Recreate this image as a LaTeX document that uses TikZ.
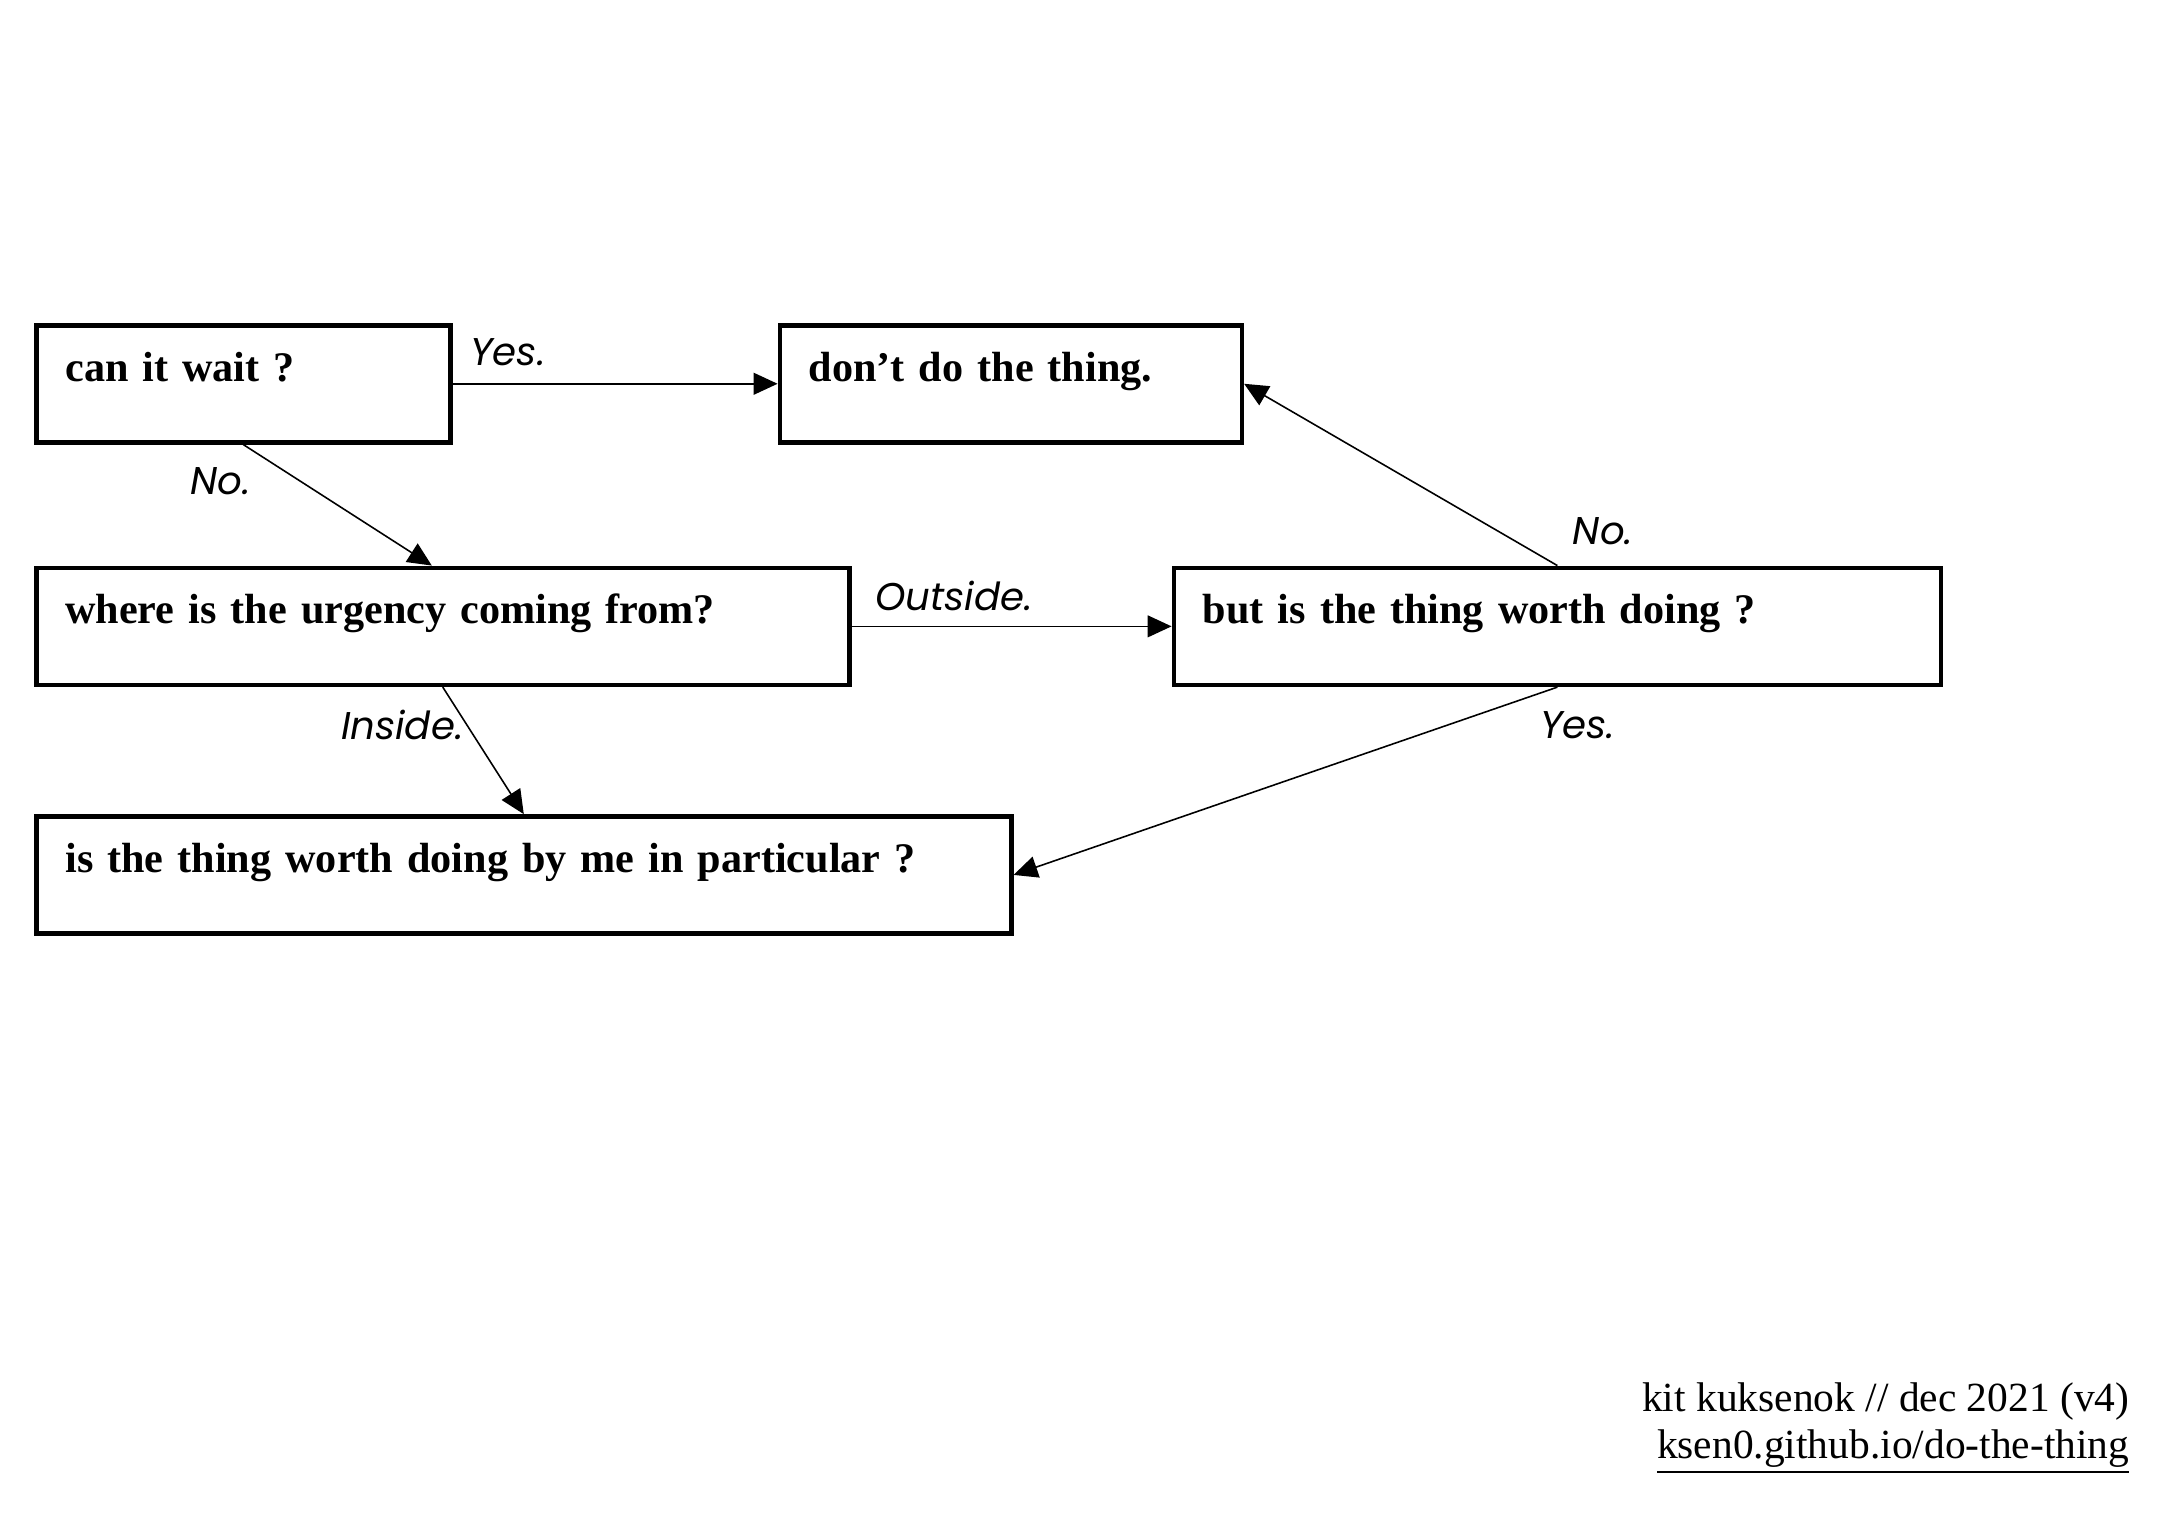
\documentclass[tikz,border=0pt]{standalone}
\usepackage{fontspec}
\setmainfont{Liberation Serif}
\newfontfamily\labelfont{Poppins}
\usetikzlibrary{arrows.meta,positioning}

\begin{document}
\begin{tikzpicture}[
    qbox/.style={draw, line width=1.3pt, anchor=north west, inner xsep=0.29cm, inner ysep=0pt,
                 text height=0.56cm, text depth=0.61cm, align=left,
                 font=\fontsize{12}{14}\selectfont\bfseries},
    arr/.style={-{Triangle[length=6.8pt,width=6.2pt]}, line width=0.45pt},
    lbl/.style={font=\labelfont\itshape\fontsize{11}{13}\selectfont, inner sep=0pt},
    note/.style={anchor=base east, inner sep=0pt, font=\fontsize{11.8}{14}\selectfont}
]
    \useasboundingbox (0,0) rectangle (21.57,-15.16);

    % question boxes
    \node[qbox, text width=3.56cm] (wait) at (0.34,-3.23) {can it wait ?};
    \node[qbox, text width=4.04cm, right=3.25cm of wait] (dont) {don't do the thing.};
    \node[qbox, text width=7.55cm, below=1.21cm of wait.south west, anchor=north west] (source) {where is the urgency coming from?};
    \node[qbox, text width=7.09cm, right=3.20cm of source] (worth) {but is the thing worth doing ?};
    \node[qbox, text width=9.17cm, below=1.27cm of source.south west, anchor=north west] (byme) {is the thing worth doing by me in particular ?};

    % answers
    \draw[arr] (wait.east) -- node[lbl, pos=0.17, yshift=0.32cm] (waityes) {Yes.} (dont.west);
    \draw[arr] (wait.south) -- node[lbl, pos=0.3, xshift=-0.79cm] (waitno) {No.} ([xshift=-0.11cm]source.north);
    \draw[arr] (source.east) -- node[lbl, pos=0.32, yshift=0.30cm] (outside) {Outside.} (worth.west);
    \draw[arr] (source.south) -- node[lbl, pos=0.3, xshift=-0.65cm] (inside) {Inside.} (byme.north);
    \draw[arr] (worth.north) -- node[lbl, pos=0.19, xshift=1.05cm] (worthno) {No.} (dont.east);
    \draw[arr] (worth.south) -- node[lbl, pos=0.2, xshift=1.29cm] (worthyes) {Yes.} (byme.east);

    % credit
    \node[note] (credit) at (21.30,-14.11) {kit kuksenok // dec 2021 (v4)};
    \node[note] (link) at ([yshift=-0.47cm]credit.base east) {\underline{ksen0.github.io/do-the-thing}};
\end{tikzpicture}
\end{document}
